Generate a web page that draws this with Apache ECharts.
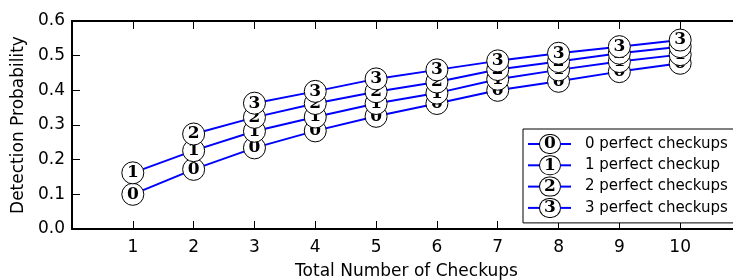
<!DOCTYPE html>
<html>
<head>
<meta charset="utf-8">
<script src="https://cdn.jsdelivr.net/npm/echarts@6/dist/echarts.min.js"></script>
<style>
  html, body { margin: 0; padding: 0; background: #fff; }
  #chart { width: 733px; height: 280px; }
</style>
</head>
<body>
<div id="chart"></div>
<script>
// checkups on the x axis, one array per "perfect checkups" series (null = no point)
var checkups = [1, 2, 3, 4, 5, 6, 7, 8, 9, 10];
var perfect0 = [0.100, 0.172, 0.234, 0.283, 0.325, 0.362, 0.400, 0.426, 0.454, 0.478];
var perfect1 = [0.162, 0.226, 0.282, 0.323, 0.362, 0.392, 0.432, 0.459, 0.483, 0.503];
var perfect2 = [null, 0.274, 0.322, 0.362, 0.396, 0.424, 0.460, 0.483, 0.507, 0.526];
var perfect3 = [null, null, 0.363, 0.397, 0.433, 0.459, 0.485, 0.507, 0.526, 0.545];
var seriesNames = ["0 perfect checkups", "1 perfect checkup", "2 perfect checkups", "3 perfect checkups"];
var yTicks = [0, 0.1, 0.2, 0.3, 0.4, 0.5, 0.6];

(function () {
  "use strict";

  var FONT = "DejaVu Sans";
  var SERIF = "DejaVu Serif";
  var BLUE = "#0000ff";

  function pairs(vals) {
    var out = [];
    vals.forEach(function (v, i) {
      if (v != null) out.push([checkups[i], v]);
    });
    return out;
  }

  var allVals = [perfect0, perfect1, perfect2, perfect3];

  var series = allVals.map(function (vals, i) {
    return {
      type: "line",
      name: seriesNames[i],
      data: pairs(vals),
      z: 2 + i,
      symbol: "circle",
      symbolSize: 22,
      showAllSymbol: true,
      silent: true,
      itemStyle: { color: "#fff", borderColor: "#000", borderWidth: 1 },
      lineStyle: { color: BLUE, width: 2 },
      label: {
        show: true, position: "inside", formatter: String(i),
        fontFamily: SERIF, fontWeight: "bold", fontSize: 17, color: "#000",
      },
      emphasis: { disabled: true },
    };
  });

  // spines + inward ticks on all four sides (classic matplotlib look)
  function frameAxis(extra) {
    var base = {
      axisLine: { show: true, onZero: false, lineStyle: { color: "#000", width: 2 } },
      axisTick: { show: true, inside: true, length: 8, lineStyle: { color: "#000", width: 1 } },
      splitLine: { show: false },
    };
    return Object.assign(base, extra);
  }

  var chart = echarts.init(document.getElementById("chart"), null, { renderer: "canvas" });
  chart.setOption({
    animation: false,
    backgroundColor: "#fff",
    // plot runs a little past the right edge of the picture, as in the original
    grid: { left: 72, width: 669, top: 21, height: 208, outerBoundsMode: "none" },
    xAxis: [
      frameAxis({
        type: "value", min: 0, max: 11, interval: 1, position: "bottom",
        name: "Total Number of Checkups", nameLocation: "middle", nameGap: 34,
        nameTextStyle: { fontFamily: FONT, fontSize: 17, color: "#000" },
        axisLabel: {
          margin: 10, fontFamily: FONT, fontSize: 17, color: "#000",
          formatter: function (v) { return checkups.indexOf(v) >= 0 ? String(v) : ""; },
        },
      }),
      frameAxis({
        type: "value", min: 0, max: 11, interval: 1, position: "top",
        axisLabel: { show: false },
      }),
    ],
    yAxis: [
      frameAxis({
        type: "value", min: yTicks[0], max: yTicks[yTicks.length - 1], interval: 0.1,
        position: "left",
        name: "Detection Probability", nameLocation: "middle", nameGap: 43,
        nameTextStyle: { fontFamily: FONT, fontSize: 17, color: "#000" },
        axisLabel: {
          margin: 7, fontFamily: FONT, fontSize: 17, color: "#000",
          formatter: function (v) { return v.toFixed(1); },
        },
      }),
      frameAxis({
        type: "value", min: yTicks[0], max: yTicks[yTicks.length - 1], interval: 0.1,
        position: "right",
        axisLabel: { show: false },
      }),
    ],
    legend: {
      data: seriesNames,
      orient: "vertical",
      left: 523, top: 129,
      z: 10,
      icon: "none",
      itemWidth: 0, itemHeight: 20, itemGap: 1.3,
      padding: [5, 10, 5, 0],
      backgroundColor: "#fff",
      borderColor: "#000", borderWidth: 1, borderRadius: 0,
      selectedMode: false,
      formatter: function (name) {
        var i = seriesNames.indexOf(name);
        return "{ln|}{c|" + i + "}{ln2|}{t|" + name + "}";
      },
      textStyle: {
        fontFamily: FONT, fontSize: 15, color: "#000",
        rich: {
          ln: { width: 12, height: 2, backgroundColor: BLUE, verticalAlign: "middle" },
          ln2: { width: 11, height: 2, backgroundColor: BLUE, verticalAlign: "middle" },
          c: {
            width: 20, height: 18, lineHeight: 18, align: "center", verticalAlign: "middle",
            borderRadius: 10, borderColor: "#000", borderWidth: 1, backgroundColor: "#fff",
            fontFamily: SERIF, fontWeight: "bold", fontSize: 17, color: "#000",
          },
          t: {
            fontFamily: FONT, fontSize: 15, color: "#000", padding: [0, 0, 0, 14],
            verticalAlign: "middle", lineHeight: 19,
          },
        },
      },
    },
    series: series,
  });
})();
</script>
</body>
</html>
